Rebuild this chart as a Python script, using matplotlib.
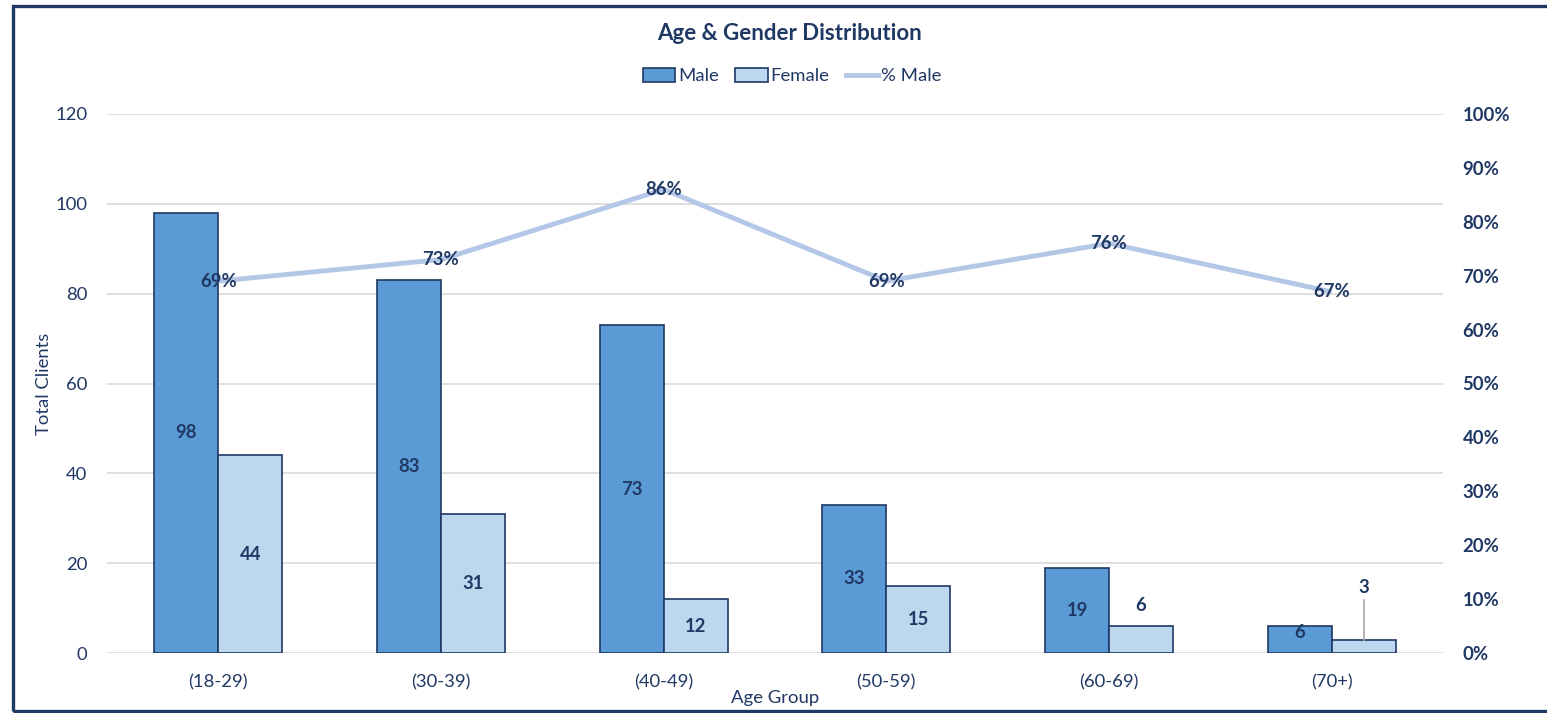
import matplotlib
matplotlib.use("Agg")
import matplotlib.pyplot as plt
from matplotlib.patches import Rectangle, Patch
from matplotlib.lines import Line2D
import numpy as np

categories = ["(18-29)", "(30-39)", "(40-49)", "(50-59)", "(60-69)", "(70+)"]
male = [98, 83, 73, 33, 19, 6]
female = [44, 31, 12, 15, 6, 3]
pct_male = [69, 73, 86, 69, 76, 67]
left_ticks = [0, 20, 40, 60, 80, 100, 120]
right_ticks = [0, 10, 20, 30, 40, 50, 60, 70, 80, 90, 100]

plt.rcParams['font.family'] = ['Lato', 'DejaVu Sans']
navy = "#1f3864"
txt = "#203864"
male_c = "#5b9bd5"
female_c = "#bdd7ee"
line_c = "#b4c7e7"
fs = 13.3

fig = plt.figure(figsize=(15.47, 7.13), dpi=100)
ax = fig.add_axes([107/1547, 1-653/713, (1443-107)/1547, (653-114)/713])
ax2 = ax.twinx()

x = np.arange(len(categories))
w = 0.287
bm = ax.bar(x - w/2, male, w, color=male_c, edgecolor=navy, linewidth=1.2, zorder=3)
bf = ax.bar(x + w/2, female, w, color=female_c, edgecolor=navy, linewidth=1.2, zorder=3)

ax.set_xlim(-0.5, len(categories) - 0.5)
ax.set_ylim(0, 120)
ax.set_yticks(left_ticks)
ax.set_yticklabels([str(t) for t in left_ticks], fontsize=fs, color=txt)
ax.set_xticks(x)
ax.set_xticklabels(categories, fontsize=fs, color=txt)
ax.tick_params(axis='y', length=0, pad=14)
ax.tick_params(axis='x', length=0, pad=15)
ax.grid(axis='y', color="#d9d9d9", linewidth=1.2, zorder=0)
ax.set_axisbelow(True)
for s in ax.spines.values():
    s.set_visible(False)
for s in ax2.spines.values():
    s.set_visible(False)
ax.set_ylabel("Total Clients", fontsize=fs, color=txt, labelpad=2.5)
ax.set_xlabel("Age Group", fontsize=fs, color=txt, labelpad=0)

# data labels for bars
for xi, v in zip(x - w/2, male):
    yy = v/2 if v > 8 else v/2 + 1.5
    ax.text(xi, yy, str(v), ha='center', va='center', fontsize=fs, fontweight='bold', color=txt, zorder=5)
for xi, v in zip(x + w/2, female):
    if v >= 10:
        ax.text(xi, v/2, str(v), ha='center', va='center', fontsize=fs, fontweight='bold', color=txt, zorder=5)
    else:
        ytop = v + 11.5 if v < 5 else v + 4.5
        ax.text(xi, ytop, str(v), ha='center', va='center', fontsize=fs, fontweight='bold', color=txt, zorder=5)
        if v < 5:
            ax.plot([xi, xi], [v, ytop - 2.8], color="#a6a6a6", linewidth=1.2, zorder=4)

# line on secondary axis
ax2.set_ylim(0, 100)
ax2.set_yticks(right_ticks)
ax2.set_yticklabels([f"{t}%" for t in right_ticks], fontsize=fs, color=txt, fontweight='bold')
ax2.tick_params(axis='y', length=0, pad=14)
ax2.plot(x, pct_male, color=line_c, linewidth=3.5, zorder=4, solid_capstyle='butt')
for xi, v in zip(x, pct_male):
    ax2.text(xi, v, f"{v}%", ha='center', va='center', fontsize=fs, fontweight='bold', color=txt, zorder=6)

fig.text(790/1547, 1-34/713, "Age & Gender Distribution", ha='center', va='center',
         fontsize=16, fontweight='bold', color=txt)

handles = [Patch(facecolor=male_c, edgecolor=navy, linewidth=1.2, label="Male"),
           Patch(facecolor=female_c, edgecolor=navy, linewidth=1.2, label="Female"),
           Line2D([0], [0], color=line_c, linewidth=3.5, label="% Male")]
leg = fig.legend(handles=handles, loc='center', bbox_to_anchor=(792/1547, 1-76/713), ncol=3,
                 frameon=False, fontsize=fs, handlelength=1.75, handleheight=0.8,
                 handletextpad=0.15, columnspacing=0.9)
for t in leg.get_texts():
    t.set_color(txt)

fig.patches.append(Rectangle((12.5/1547, 1-710.5/713), 1.2, (710.5-6)/713, transform=fig.transFigure,
                             fill=False, edgecolor=navy, linewidth=2.4, zorder=10))

fig.savefig("out.png", dpi=100, facecolor='white')
